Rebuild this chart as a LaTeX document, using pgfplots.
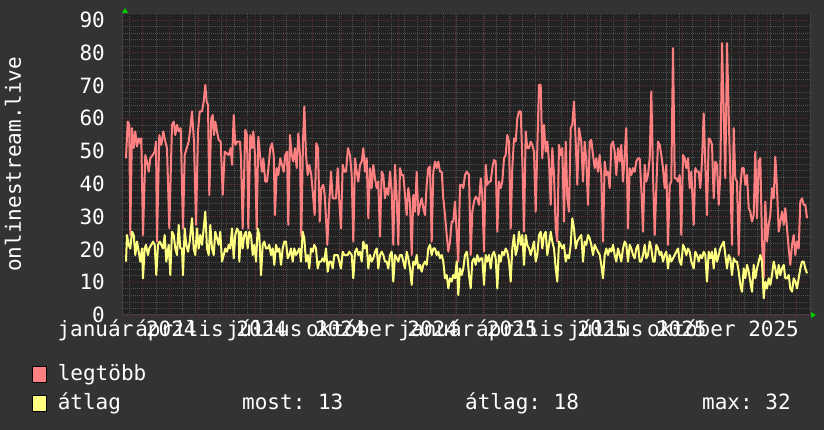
\documentclass[border=0pt]{standalone}
\usepackage{pgfplots}
\pgfplotsset{compat=1.18}
\usepackage{fontspec}
\setmainfont{DejaVu Sans Mono}
\frenchspacing
\newcommand{\ff}{\fontsize{21pt}{25pt}\selectfont}
\definecolor{bgc}{RGB}{51,51,51}
\definecolor{canvasc}{RGB}{34,34,34}
\definecolor{gridc}{RGB}{80,80,80}
\definecolor{mgridc}{RGB}{92,44,44}
\definecolor{axisc}{RGB}{64,64,64}
\definecolor{redc}{RGB}{255,128,128}
\definecolor{yelc}{RGB}{255,255,128}
\definecolor{arrowc}{RGB}{0,204,0}
\begin{document}
\begin{tikzpicture}
\useasboundingbox (0,0) rectangle (824pt,430pt);
\fill[bgc] (0,0) rectangle (824pt,430pt);
\begin{axis}[
  at={(123pt,115pt)}, anchor=south west,
  scale only axis, width=687pt, height=301.6pt,
  xmin=123, xmax=810, ymin=0, ymax=92,
  /pgf/number format/assume math mode=true,
  axis background/.style={fill=canvasc},
  axis line style={draw=axisc, line width=1pt},
  axis x line*=bottom, axis y line*=left,
  xtick={142.1,169.1,198.1,226.1,255.1,283.1,312.0,341.0,369.0,398.0,426.0,455.0,483.9,510.1,539.0,567.0,596.0,624.0,652.9,681.9,709.9,738.9,766.9,795.9},
  xticklabels={},
  minor xtick={129.7,142.78,...,810},
  extra x ticks={127.1,211.2,296.2,382.1,468.0,552.1,637.1,723.0},
  extra x tick labels={január 2024,április 2024,július 2024,október 2024,január 2025,április 2025,július 2025,október 2025},
  extra x tick style={grid=none, major tick length=0pt},
  xticklabel style={anchor=base, yshift=-22pt, inner sep=0pt},
  ytick={0,10,20,30,40,50,60,70,80,90},
  yticklabels={0,10,20,30,40,50,60,70,80,90},
  minor ytick={2,4,6,8,12,14,16,18,22,24,26,28,32,34,36,38,42,44,46,48,52,54,56,58,62,64,66,68,72,74,76,78,82,84,86,88,92},
  yticklabel style={anchor=east, inner sep=0pt, xshift=-15pt},
  tick label style={font=\ff, text=white},
  grid=both,
  major grid style={draw=mgridc, line width=0.7pt, dash pattern=on 1pt off 1pt},
  minor grid style={draw=gridc, line width=0.7pt, dash pattern=on 1pt off 1pt},
  xtick style={draw=mgridc, line width=0.8pt},
  ytick style={draw=none},
  minor tick length=0pt,
  major tick length=3pt, tick align=outside,
  ylabel={onlinestream.live},
  ylabel style={at={(axis description cs:-0.160,0.5)}, anchor=center, font=\ff, text=white},
  legend image code/.code={\draw[#1, draw=black, line width=0.8pt] (0pt,-1pt) rectangle (14pt,15pt);},
  legend style={at={(axis description cs:-0.13246,-0.16578)}, anchor=north west,
    draw=none, fill=none, inner sep=0pt, outer sep=0pt, font=\ff, text=white,
    row sep=8pt, nodes={inner sep=0pt, text height=16pt, text depth=5pt, anchor=base west},
    /tikz/every odd column/.append style={column sep=11pt}},
  legend cell align=left,
]
\addplot[color=redc, line width=2pt, line join=round, forget plot] coordinates {
(126.0,47.8)(127.7,59.0)(129.3,58.0)(130.3,24.4)(132.0,57.0)(133.7,50.9)(135.3,56.0)(137.0,51.4)(138.7,53.9)(140.3,52.4)(141.3,53.9)(143.0,24.4)(145.3,48.8)(147.0,46.8)(148.7,43.7)(150.3,47.8)(152.7,48.8)(154.7,49.8)(156.0,52.9)(157.0,22.4)(159.3,54.9)(161.3,51.9)(163.3,56.0)(165.3,52.9)(167.0,50.9)(169.3,26.4)(172.0,58.0)(173.7,59.0)(175.3,54.9)(177.0,58.0)(178.7,56.0)(180.7,57.0)(183.0,26.4)(184.7,48.8)(186.7,50.9)(188.7,52.9)(190.7,58.0)(192.0,62.1)(194.0,52.9)(196.0,27.5)(198.0,56.0)(199.7,62.1)(202.0,62.1)(203.7,65.1)(205.3,70.2)(206.7,65.1)(208.0,64.1)(209.3,36.6)(211.3,60.0)(212.7,61.0)(214.0,54.9)(215.3,59.0)(217.0,56.0)(218.7,53.4)(220.7,52.9)(222.7,36.6)(224.7,49.8)(226.7,49.3)(228.7,48.8)(230.7,50.9)(232.0,45.8)(233.7,61.0)(235.3,51.9)(237.3,52.9)(240.0,52.9)
(241.0,47.8)(242.7,26.4)(245.3,56.5)(247.0,54.9)(248.3,26.4)(250.3,54.9)(252.0,50.9)(253.3,56.0)(255.0,48.8)(256.7,26.4)(258.3,54.4)(260.0,48.8)(262.0,43.7)(263.3,47.8)(265.3,40.7)(267.0,40.7)(268.7,45.8)(270.3,50.9)(272.0,52.4)(273.7,48.8)(275.0,30.5)(276.7,44.8)(278.3,42.7)(280.3,47.8)(282.0,45.8)(283.7,43.7)(285.3,48.8)(287.0,49.8)(288.3,27.5)(290.0,54.9)(291.7,48.8)(293.3,46.8)(295.0,50.9)(296.7,44.8)(298.3,55.4)(300.0,48.8)(301.3,23.9)(303.0,52.9)(304.3,63.6)(306.0,48.8)(307.7,42.7)(309.3,45.8)(311.3,42.7)(313.0,36.6)(314.7,30.5)(316.3,52.4)(318.0,50.9)(319.7,28.5)(321.3,38.7)(323.3,39.7)(324.7,36.6)(326.0,29.5)(327.3,21.4)(329.3,34.6)(331.0,43.7)(332.7,35.6)(334.3,35.6)(336.0,35.6)(337.7,44.8)(339.3,34.6)(341.0,26.4)(342.7,45.8)(344.3,43.7)(346.0,43.7)(348.0,50.9)(350.0,48.8)
(351.7,42.7)(353.3,22.4)(355.0,47.8)(356.7,43.7)(358.3,40.7)(360.0,45.8)(361.7,46.8)(363.3,50.9)(365.0,43.7)(366.7,47.8)(368.3,29.5)(370.0,44.8)(371.7,38.7)(373.3,45.8)(375.0,41.7)(376.7,38.7)(378.3,40.7)(380.0,23.9)(381.7,43.7)(383.3,42.7)(385.0,35.6)(386.7,38.7)(388.3,36.6)(390.0,43.7)(391.7,37.6)(393.3,21.4)(395.0,45.8)(396.7,35.6)(398.3,21.4)(400.0,44.8)(401.7,42.7)(403.3,42.7)(405.0,36.6)(406.7,30.5)(408.3,38.7)(410.0,34.6)(411.7,18.3)(413.3,36.6)(415.0,31.5)(416.7,43.7)(418.3,30.5)(420.0,33.6)(421.7,35.6)(423.3,32.6)(425.0,30.5)(426.7,39.7)(428.3,44.8)(430.0,45.3)(431.7,22.4)(433.3,43.7)(435.0,46.8)(436.7,44.8)(438.3,46.8)(440.0,43.7)(441.7,43.7)(443.3,35.6)(445.0,30.5)(446.7,24.4)(448.3,19.3)(450.0,22.4)(451.7,28.5)(453.3,28.5)(455.0,34.6)(456.7,25.4)(458.3,16.3)(460.0,39.7)(461.7,39.7)(463.3,38.7)(465.0,42.7)(466.7,43.7)
(469.0,42.7)(470.7,18.3)(472.3,31.5)(474.0,34.6)(475.7,36.1)(477.3,35.6)(479.0,33.6)(480.7,41.7)(482.3,36.6)(484.0,19.3)(485.7,45.8)(487.3,39.7)(489.0,40.7)(490.7,40.7)(492.3,44.8)(494.0,47.3)(495.7,46.8)(497.3,25.4)(499.0,40.7)(500.7,38.7)(502.3,40.7)(504.0,47.8)(505.7,48.8)(507.3,54.9)(509.0,52.9)(510.7,26.4)(512.3,44.8)(514.0,53.9)(515.7,52.9)(517.3,60.0)(519.0,62.1)(520.7,62.1)(522.3,47.8)(524.0,25.4)(525.7,56.0)(527.3,50.9)(529.0,50.9)(530.7,52.9)(532.3,51.9)(534.0,49.8)(535.7,31.5)(537.3,50.9)(539.0,70.2)(540.7,70.2)(542.3,47.8)(544.0,58.0)(545.7,49.8)(547.3,52.9)(549.0,46.8)(550.7,33.6)(552.3,50.9)(554.0,42.7)(555.7,26.4)(557.3,22.4)(559.0,51.9)(560.7,48.8)(562.3,50.9)(564.0,28.5)(565.7,52.9)(567.3,35.6)(569.0,31.5)(570.7,57.0)(572.3,58.0)(574.0,65.1)(575.7,52.9)(577.3,39.7)(579.0,57.0)
(581.3,52.9)(583.0,40.7)(584.7,52.9)(586.3,46.8)(588.0,33.6)(589.7,52.9)(591.3,53.4)(593.0,48.8)(594.7,44.8)(596.3,47.8)(598.0,43.7)(599.7,48.8)(601.3,42.7)(603.0,22.4)(604.7,46.8)(606.3,42.7)(608.0,43.7)(609.7,38.7)(611.3,51.9)(613.0,52.9)(614.7,49.8)(616.3,42.7)(618.0,50.9)(619.7,46.8)(621.3,51.9)(623.0,40.7)(624.7,48.8)(626.3,57.0)(628.0,26.4)(629.7,44.8)(631.3,42.7)(633.0,44.8)(634.7,43.7)(636.3,46.8)(638.0,47.8)(639.7,47.8)(641.3,38.7)(643.0,25.4)(644.7,45.8)(646.3,40.7)(648.0,42.7)(649.7,47.8)(651.3,68.2)(653.0,42.7)(654.7,24.4)(656.3,38.7)(658.0,52.9)(659.7,51.9)(661.3,48.8)(663.0,44.8)(664.7,38.7)(666.3,45.8)(668.0,21.4)(669.7,39.7)(671.3,40.7)(673.0,81.4)(674.7,41.7)(676.3,41.7)(678.0,40.7)(679.7,42.7)(681.3,24.4)(683.0,48.8)(684.7,47.8)(686.3,44.8)(688.0,47.8)(689.7,38.7)(691.3,43.7)
(693.7,27.5)(695.3,44.8)(697.0,43.7)(698.7,43.7)(700.3,38.7)(702.0,46.8)(703.7,61.5)(705.3,45.8)(707.0,30.5)(708.7,53.9)(710.3,53.4)(712.0,51.9)(713.7,35.6)(715.3,46.8)(717.0,45.8)(718.7,33.6)(720.3,42.7)(722.0,82.9)(723.7,62.1)(725.3,41.7)(727.0,82.9)(728.7,61.0)(730.3,42.7)(732.0,21.4)(733.7,57.0)(735.3,41.7)(737.0,40.7)(738.7,18.3)(740.3,38.7)(742.0,44.8)(743.7,44.8)(745.3,39.7)(747.0,42.7)(748.7,32.6)(750.3,31.5)(752.0,28.5)(753.7,30.5)(755.3,49.8)(757.0,29.5)(758.7,46.8)(760.3,47.8)(762.0,22.4)(763.7,11.2)(765.3,34.6)(767.0,22.4)(768.7,27.5)(770.3,30.5)(772.0,38.7)(773.7,35.6)(775.3,48.3)(777.0,38.7)(778.7,25.4)(780.3,28.5)(782.0,31.5)(783.7,27.5)(785.3,32.6)(787.0,26.4)(788.7,20.3)(790.3,15.3)(792.0,21.4)(793.7,24.4)(795.3,18.3)(797.0,22.4)(798.7,20.3)(800.3,34.6)(802.0,35.6)(803.7,33.6)(805.3,33.6)(807.0,29.5)
};
\addplot[color=yelc, line width=2pt, line join=round, forget plot] coordinates {
(126.0,16.3)(127.0,24.4)(128.7,21.4)(130.3,20.3)(132.0,25.4)(133.7,24.4)(135.3,18.3)(137.0,22.4)(138.7,19.3)(140.3,16.3)(142.0,20.3)(143.0,11.2)(144.7,20.3)(146.0,21.4)(148.0,18.3)(149.3,20.3)(151.3,21.4)(153.0,22.4)(154.7,21.4)(156.3,12.2)(158.0,21.4)(159.7,22.4)(161.3,21.4)(163.0,20.3)(164.7,24.4)(166.3,16.3)(168.7,21.4)(170.3,12.2)(172.0,25.4)(173.7,24.4)(175.3,20.3)(177.0,18.3)(178.7,27.5)(180.3,20.3)(182.0,20.3)(183.0,12.2)(184.7,26.4)(186.3,21.4)(188.0,19.3)(189.7,22.4)(192.0,29.5)(193.7,20.3)(195.3,18.3)(197.0,26.4)(198.7,20.3)(200.3,24.4)(202.0,21.4)(203.7,26.4)(205.3,31.5)(207.0,20.3)(208.7,18.3)(210.3,27.5)(212.0,20.3)(213.7,18.3)(215.3,25.4)(217.0,23.4)(218.7,21.4)(220.3,25.4)(222.0,16.3)(223.7,18.3)(225.3,20.3)(227.0,19.3)(228.7,21.4)(230.3,20.3)(232.0,26.4)(233.7,17.3)(235.3,24.4)(237.0,26.4)(238.7,25.4)
(239.3,16.3)(241.0,25.4)(242.7,20.3)(244.3,24.4)(246.0,25.4)(247.7,20.3)(249.3,25.4)(251.0,24.4)(252.7,18.3)(254.3,21.4)(256.0,16.3)(257.7,26.4)(259.3,24.4)(261.0,12.2)(262.7,21.4)(264.3,22.4)(266.0,20.3)(267.7,20.3)(269.3,21.4)(271.0,18.3)(272.7,20.3)(274.3,15.3)(276.0,21.4)(277.7,19.3)(279.3,20.3)(281.0,15.3)(282.7,20.3)(284.3,22.4)(286.0,22.4)(287.7,17.3)(289.3,18.3)(291.0,20.3)(292.7,16.3)(294.3,20.3)(296.0,18.3)(297.7,19.3)(299.3,20.3)(301.0,16.3)(302.7,25.4)(304.3,23.4)(306.0,16.3)(307.7,18.3)(309.3,14.2)(311.0,20.3)(312.7,19.3)(314.3,21.4)(316.0,20.3)(317.7,14.2)(319.3,16.3)(321.0,16.3)(322.7,17.3)(324.3,16.3)(326.0,20.3)(327.7,13.2)(329.3,16.3)(331.0,16.3)(332.7,14.2)(334.3,18.3)(336.0,18.3)(337.7,18.3)(339.3,16.3)(341.0,14.2)(342.7,19.3)(344.3,18.3)(346.0,18.3)(347.7,18.3)(349.3,19.3)
(351.7,18.3)(353.3,11.2)(355.0,19.3)(356.7,20.3)(358.3,18.3)(360.0,19.3)(361.7,16.3)(363.3,22.4)(365.0,20.3)(366.7,21.4)(368.3,14.2)(370.0,18.3)(371.7,16.3)(373.3,17.3)(375.0,19.3)(376.7,20.3)(378.3,14.2)(380.0,18.3)(381.7,19.3)(383.3,18.3)(385.0,16.3)(386.7,16.3)(388.3,14.2)(390.0,18.3)(391.7,19.3)(393.3,10.2)(395.0,18.3)(396.7,17.3)(398.3,16.3)(400.0,18.3)(401.7,18.3)(403.3,16.3)(405.0,14.2)(406.7,19.3)(408.3,17.3)(410.0,14.2)(411.7,9.2)(413.3,16.3)(415.0,15.3)(416.7,18.3)(418.3,14.2)(420.0,15.3)(421.7,13.2)(423.3,15.3)(425.0,16.3)(426.7,15.3)(428.3,20.3)(430.0,21.4)(431.7,18.3)(433.3,20.3)(435.0,20.3)(436.7,18.3)(438.3,19.3)(440.0,17.3)(441.7,18.3)(443.3,16.3)(445.0,11.2)(446.7,12.2)(448.3,8.1)(450.0,11.2)(451.7,10.2)(453.3,12.2)(455.0,11.2)(456.7,16.3)(458.3,6.1)(460.0,14.2)(461.7,12.2)(463.3,14.2)(465.0,18.3)(466.7,19.3)
(467.3,18.3)(469.0,12.2)(470.7,8.1)(472.3,16.3)(474.0,17.3)(475.7,15.3)(477.3,18.3)(479.0,16.3)(480.7,17.3)(482.3,17.3)(484.0,9.2)(485.7,18.3)(487.3,16.3)(489.0,18.3)(490.7,14.2)(492.3,18.3)(494.0,19.3)(495.7,17.3)(497.3,8.1)(499.0,18.3)(500.7,16.3)(502.3,19.3)(504.0,18.3)(505.7,20.3)(507.3,19.3)(509.0,16.3)(510.7,10.2)(512.3,20.3)(514.0,24.4)(515.7,18.3)(517.3,20.3)(519.0,25.4)(520.7,21.4)(522.3,24.4)(524.0,15.3)(525.7,24.4)(527.3,21.4)(529.0,20.3)(530.7,18.3)(532.3,20.3)(534.0,22.4)(535.7,16.3)(537.3,18.3)(539.0,24.4)(540.7,25.4)(542.3,20.3)(544.0,24.4)(545.7,25.4)(547.3,18.3)(549.0,21.4)(550.7,25.4)(552.3,22.4)(554.0,20.3)(555.7,14.2)(557.3,10.2)(559.0,22.4)(560.7,21.4)(562.3,20.3)(564.0,21.4)(565.7,16.3)(567.3,18.3)(569.0,17.3)(570.7,21.4)(572.3,29.5)(574.0,26.4)(575.7,20.3)(577.3,22.4)(579.0,23.4)
(581.3,24.4)(583.0,16.3)(584.7,22.4)(586.3,21.4)(588.0,24.4)(589.7,23.4)(591.3,21.4)(593.0,18.3)(594.7,21.4)(596.3,20.3)(598.0,19.3)(599.7,18.3)(601.3,15.3)(603.0,11.2)(604.7,18.3)(606.3,20.3)(608.0,18.3)(609.7,20.3)(611.3,19.3)(613.0,21.4)(614.7,18.3)(616.3,16.3)(618.0,20.3)(619.7,18.3)(621.3,16.3)(623.0,20.3)(624.7,22.4)(626.3,21.4)(628.0,16.3)(629.7,21.4)(631.3,20.3)(633.0,18.3)(634.7,17.3)(636.3,20.3)(638.0,21.4)(639.7,16.3)(641.3,16.3)(643.0,18.3)(644.7,21.4)(646.3,17.3)(648.0,18.3)(649.7,22.4)(651.3,20.3)(653.0,16.3)(654.7,16.3)(656.3,21.4)(658.0,20.3)(659.7,18.3)(661.3,19.3)(663.0,16.3)(664.7,18.3)(666.3,19.3)(668.0,14.2)(669.7,18.3)(671.3,16.3)(673.0,17.3)(674.7,18.3)(676.3,19.3)(678.0,20.3)(679.7,16.3)(681.3,15.3)(683.0,21.4)(684.7,20.3)(686.3,18.3)(688.0,20.3)(689.7,19.3)(691.3,16.3)
(693.7,14.2)(695.3,19.3)(697.0,18.3)(698.7,16.3)(700.3,18.3)(702.0,17.3)(703.7,19.3)(705.3,18.3)(707.0,10.2)(708.7,19.3)(710.3,17.3)(712.0,19.3)(713.7,14.2)(715.3,20.3)(717.0,16.3)(718.7,18.3)(720.3,20.3)(722.0,21.4)(723.7,22.4)(725.3,18.3)(727.0,14.2)(728.7,18.3)(730.3,17.3)(732.0,12.2)(733.7,17.3)(735.3,16.3)(737.0,16.3)(738.7,13.2)(740.3,9.2)(742.0,7.1)(743.7,14.2)(745.3,11.2)(747.0,15.3)(748.7,13.2)(750.3,10.2)(752.0,7.1)(753.7,15.3)(755.3,11.2)(757.0,14.2)(758.7,16.3)(760.3,18.3)(762.0,16.3)(763.7,5.1)(765.3,10.2)(767.0,8.1)(768.7,11.2)(770.3,9.2)(772.0,12.2)(773.7,16.3)(775.3,14.2)(777.0,11.2)(778.7,15.3)(780.3,12.2)(782.0,14.2)(783.7,15.3)(785.3,11.2)(787.0,11.2)(788.7,12.2)(790.3,8.1)(792.0,7.1)(793.7,11.2)(795.3,10.2)(797.0,8.1)(798.7,11.2)(800.3,14.2)(802.0,16.3)(803.7,16.3)(805.3,14.2)(807.0,12.7)
};
\addlegendimage{fill=redc}
\addlegendentry{legtöbb}
\addlegendimage{fill=yelc}
\addlegendentry{átlag}
\end{axis}
\fill[arrowc] (122pt,417pt) -- (128pt,417pt) -- (125pt,422pt) -- cycle;
\fill[arrowc] (811pt,112pt) -- (811pt,118pt) -- (816pt,115pt) -- cycle;
\node[anchor=base west, inner sep=0pt, text=white, font=\ff] at (242pt,20pt) {most: 13};
\node[anchor=base west, inner sep=0pt, text=white, font=\ff] at (465pt,20pt) {átlag: 18};
\node[anchor=base west, inner sep=0pt, text=white, font=\ff] at (702pt,20pt) {max: 32};
\end{tikzpicture}
\end{document}
